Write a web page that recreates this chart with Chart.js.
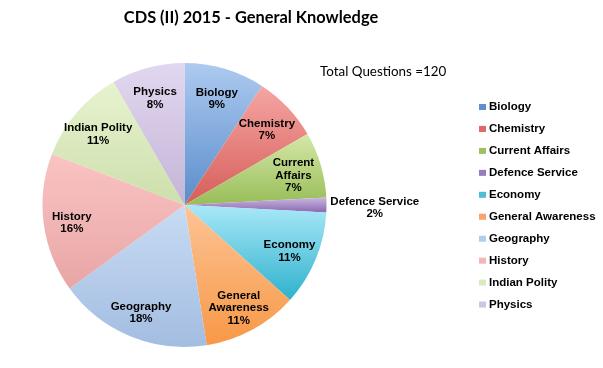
<!DOCTYPE html>
<html lang="en">
<head>
  <meta charset="UTF-8">
  <title>CDS (II) 2015 - General Knowledge</title>
  <script src="https://cdn.jsdelivr.net/npm/chart.js"></script>
  <style>
    body { margin: 0; background: #fff; }
    #pieChart { display: block; }
  </style>
</head>
<body>
  <canvas id="pieChart" width="603" height="368"></canvas>

  <script>
    // subjects and number of questions (out of 120)
    const subjects = ['Biology', 'Chemistry', 'Current Affairs', 'Defence Service', 'Economy',
                      'General Awareness', 'Geography', 'History', 'Indian Polity', 'Physics'];
    const questions = [11, 9, 9, 2, 13, 13, 21, 19, 13, 10];
    // percentages as printed on the slices
    const pctLabels = ['9%', '7%', '7%', '2%', '11%', '11%', '18%', '16%', '11%', '8%'];
    // slice label text, split the way the original wraps it
    const sliceLines = [['Biology'], ['Chemistry'], ['Current', 'Affairs'], ['Defence Service'], ['Economy'],
                        ['General', 'Awareness'], ['Geography'], ['History'], ['Indian Polity'], ['Physics']];
    const totalText = 'Total Questions =120';
    const titleText = 'CDS (II) 2015 - General Knowledge';

    // gradient colours (top -> bottom) and legend swatch colours
    const lightColors = ['#aecaf0', '#f5a6a3', '#d5e8a8', '#c9b7e0', '#a9e8f8',
                         '#fdc495', '#c8dbf3', '#fbc3c3', '#e7f3cf', '#e2d7f0'];
    const darkColors  = ['#5a8dca', '#d65d59', '#98bd58', '#8a68b0', '#2eb1cd',
                         '#f79847', '#a3bde1', '#e8a6a6', '#cddfac', '#c4b5d6'];
    const legendColors = ['#5f8fd0', '#e06767', '#9cc260', '#9a7abd', '#4bbfd7',
                          '#f8a46a', '#b3ccee', '#f5b5b5', '#d9eac1', '#d0c4e2'];

    const total = questions.reduce((a, b) => a + b, 0);
    const labelFont = 'bold 11.5px "Liberation Sans", Arial, sans-serif';

    // Excel-like gradient per slice: light at the top of the slice, dark at the bottom
    function sliceGradient(context) {
      const chart = context.chart;
      const i = context.dataIndex;
      const area = chart.chartArea;
      if (!area || i === undefined) return lightColors[i] || '#ccc';
      const cx = (area.left + area.right) / 2;
      const cy = (area.top + area.bottom) / 2;
      const r = Math.min(area.width, area.height) / 2;
      let cum = 0;
      for (let k = 0; k < i; k++) cum += questions[k];
      const a0 = -Math.PI / 2 + 2 * Math.PI * cum / total;
      const a1 = a0 + 2 * Math.PI * questions[i] / total;
      let minY = cy, maxY = cy;
      for (let k = 0; k <= 24; k++) {
        const a = a0 + (a1 - a0) * k / 24;
        const py = cy + Math.sin(a) * r;
        minY = Math.min(minY, py);
        maxY = Math.max(maxY, py);
      }
      const g = chart.ctx.createLinearGradient(0, minY, 0, maxY);
      g.addColorStop(0, lightColors[i]);
      g.addColorStop(1, darkColors[i]);
      return g;
    }

    // labels inside the slices (small slices get theirs outside)
    const sliceLabels = {
      id: 'sliceLabels',
      afterDatasetsDraw(chart) {
        const ctx = chart.ctx;
        const meta = chart.getDatasetMeta(0);
        ctx.save();
        ctx.font = labelFont;
        ctx.fillStyle = '#000';
        ctx.textAlign = 'center';
        ctx.textBaseline = 'middle';
        meta.data.forEach((arc, i) => {
          const p = arc.getProps(['x', 'y', 'startAngle', 'endAngle', 'outerRadius']);
          const mid = (p.startAngle + p.endAngle) / 2;
          const share = questions[i] / total;
          const dist = share < 0.03 ? p.outerRadius * 1.34 : p.outerRadius * 0.8;
          const lx = p.x + Math.cos(mid) * dist;
          const ly = p.y + Math.sin(mid) * dist + 3;
          const lines = sliceLines[i].concat([pctLabels[i]]);
          const lh = 12.5;
          const y0 = ly - (lines.length - 1) * lh / 2;
          lines.forEach((t, j) => ctx.fillText(t, lx, y0 + j * lh));
        });
        ctx.restore();
      }
    };

    // title, total count and the legend on the right
    const extras = {
      id: 'extras',
      afterDraw(chart) {
        const ctx = chart.ctx;
        ctx.save();
        ctx.fillStyle = '#000';
        ctx.textBaseline = 'middle';
        ctx.textAlign = 'center';
        ctx.font = 'bold 16.4px Lato, "Open Sans", sans-serif';
        ctx.fillText(titleText, 251, 18);

        ctx.textAlign = 'left';
        ctx.font = '13.4px Lato, "Open Sans", sans-serif';
        ctx.fillText(totalText, 320, 72);

        ctx.font = labelFont;
        chart.data.labels.forEach((lab, i) => {
          const y = 107 + i * 21.95;
          ctx.fillStyle = legendColors[i];
          ctx.fillRect(479, y - 3, 7, 6);
          ctx.fillStyle = '#000';
          ctx.fillText(lab, 489, y);
        });
        ctx.restore();
      }
    };

    const ctx = document.getElementById('pieChart').getContext('2d');
    new Chart(ctx, {
      type: 'pie',
      data: {
        labels: subjects,
        datasets: [{
          data: questions,
          backgroundColor: sliceGradient,
          borderWidth: 0
        }]
      },
      options: {
        responsive: false,
        animation: false,
        layout: { padding: { left: 42, right: 276, top: 63, bottom: 21 } },
        plugins: {
          legend: { display: false },
          title: { display: false },
          tooltip: { enabled: false }
        }
      },
      plugins: [sliceLabels, extras]
    });
  </script>
</body>
</html>
